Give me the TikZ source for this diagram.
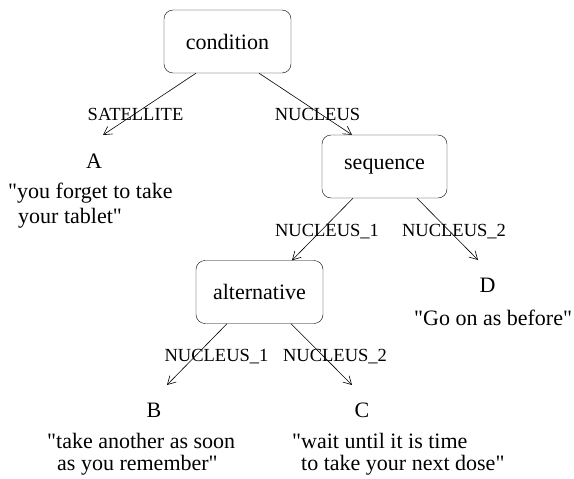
\documentclass[tikz,border=0pt]{standalone}
\usepackage{fontspec}
\setmainfont{Liberation Serif}[Ligatures=TeXOff]
\usetikzlibrary{arrows.meta}
\begin{document}
\begin{tikzpicture}[x=1pt,y=-1pt,
  box/.style={draw,rounded corners=9pt,minimum width=126pt,minimum height=63pt,inner sep=0pt,font=\fontsize{22}{26}\selectfont},
  txt/.style={inner sep=0pt,font=\fontsize{22}{26}\selectfont},
  lbl/.style={inner sep=0pt,font=\fontsize{18.5}{21}\selectfont},
  arr/.style={-{Straight Barb[length=8pt,width=9pt]},line width=0.6pt}]
\useasboundingbox (0,0) rectangle (574,479);
% boxes
\node[box,minimum width=127pt] (cond) at (227.5,41.5) {condition};
\node[box,minimum width=125pt] (seq) at (384.5,166.5) {sequence};
\node[box,minimum width=127pt] (alt) at (259.5,292) {alternative};
% leaves
\node[txt] (A) at (94,161) {A};
\node[txt,anchor=west] (a1) at (8,193) {"you forget to take};
\node[txt,anchor=west] (a2) at (18,218) {your tablet"};
\node[txt] (D) at (487.5,285) {D};
\node[txt,anchor=west] (d1) at (414,318) {"Go on as before"};
\node[txt] (B) at (154,410) {B};
\node[txt,anchor=west] (b1) at (47,441) {"take another as soon};
\node[txt,anchor=west] (b2) at (57,465) {as you remember"};
\node[txt] (C) at (362,410) {C};
\node[txt,anchor=west] (c1) at (292,441) {"wait until it is time};
\node[txt,anchor=west] (c2) at (301,465) {to take your next dose"};
% arrow tips
\coordinate (tA) at (103,135);
\coordinate (tD) at (478,260);
\coordinate (tB) at (167,385);
\coordinate (tC) at (352,385);
% connectors
\draw[arr] ([xshift=-31.5pt]cond.south) -- (tA);
\draw[arr] ([xshift=31.5pt]cond.south) -- ([xshift=-32.5pt]seq.north);
\draw[arr] ([xshift=-31.5pt]seq.south) -- ([xshift=32.5pt]alt.north);
\draw[arr] ([xshift=32.5pt]seq.south) -- (tD);
\draw[arr] ([xshift=-32.5pt]alt.south) -- (tB);
\draw[arr] ([xshift=31.5pt]alt.south) -- (tC);
% labels
\node[lbl] (l1) at (135.5,114) {SATELLITE};
\node[lbl] (l2) at (317.5,114) {NUCLEUS};
\node[lbl] (l3) at (327,232) {NUCLEUS\_1};
\node[lbl] (l4) at (454,232) {NUCLEUS\_2};
\node[lbl] (l5) at (216.5,357) {NUCLEUS\_1};
\node[lbl] (l6) at (335,357) {NUCLEUS\_2};
\end{tikzpicture}
\end{document}
